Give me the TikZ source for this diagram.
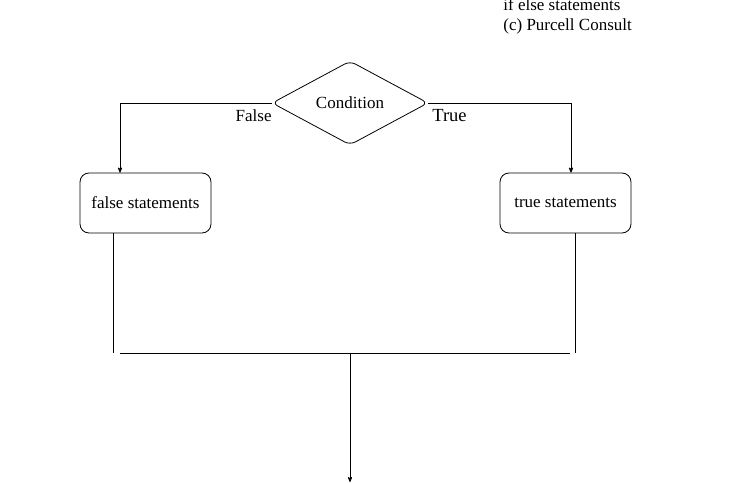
\documentclass[tikz,border=0pt]{standalone}
\usepackage{fontspec}
\setmainfont{Liberation Serif}
\usetikzlibrary{arrows,shapes.geometric}

\begin{document}
\begin{tikzpicture}[x=1pt,y=-1pt,>=stealth',line width=0.8pt,
    txt/.style={font=\fontsize{17}{20}\selectfont,inner sep=1pt},
    decision/.style={diamond,draw,rounded corners=6pt,minimum width=156pt,
      minimum height=79pt,inner sep=0pt,txt},
    block/.style={rectangle,draw,rounded corners=9pt,minimum width=131pt,
      minimum height=60pt,txt}]
  \useasboundingbox (0,0) rectangle (732,484);

  \node[decision] (cond)               at (350,103) {\raisebox{-1pt}{Condition}};
  \node[block]    (fbox)               at (145.5,203) {\raisebox{-1pt}{false statements}};
  \node[block]    (tbox)               at (565.5,203) {\raisebox{-1pt}{true statements}};
  \node[txt,anchor=east] (flabel)      at (273,116) {False};
  \node[txt,font=\fontsize{18.5}{22}\selectfont,anchor=west] (tlabel) at (431,116) {True};
  \node[txt,anchor=base west] (note1)  at (502,11) {if else statements};
  \node[txt,anchor=base west] (note2)  at (502,31) {(c) Purcell Consult};

  \coordinate (fturn) at (120,103);
  \coordinate (tturn) at (571,103);
  \coordinate (fdrop) at (113,353);
  \coordinate (tdrop) at (575,353);
  \coordinate (jleft) at (120,353);
  \coordinate (jright) at (570,353);
  \coordinate (join) at (350,353);
  \coordinate (exit) at (350,482);

  \draw[->] (cond.west) -- (fturn) -- (fturn |- fbox.north);
  \draw[->] (cond.east) -- (tturn) -- (tturn |- tbox.north);
  \draw (fbox.south -| fdrop) -- (fdrop);
  \draw (tbox.south -| tdrop) -- (tdrop);
  \draw (jleft) -- (jright);
  \draw[->] (join) -- (exit);
\end{tikzpicture}
\end{document}
